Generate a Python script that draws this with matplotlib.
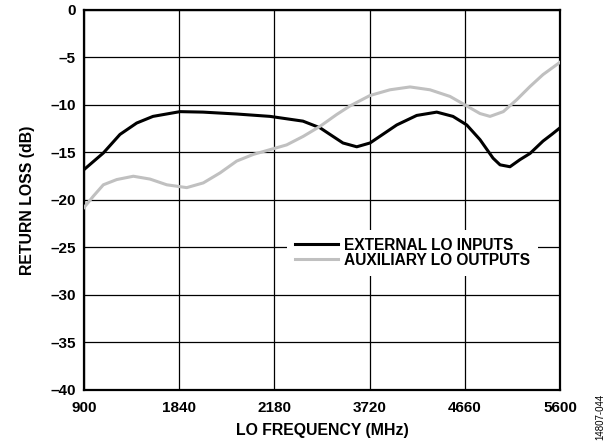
import numpy as np
import matplotlib.pyplot as plt

plt.rcParams['font.family'] = ['Liberation Sans', 'DejaVu Sans']
plt.rcParams['font.weight'] = 'bold'

# datos (MHz, dB)
freq_ext = [900, 1091, 1255, 1420, 1581, 1848, 2075, 2408, 2737, 3062, 3230,
            3329, 3457, 3593, 3724, 3988, 4185, 4383, 4543, 4679, 4810, 4939,
            5008, 5106, 5205, 5304, 5432, 5518, 5600]
rl_ext = [-16.8, -15.05, -13.1, -11.9, -11.2, -10.7, -10.75, -10.95, -11.2,
          -11.7, -12.4, -13.1, -14.0, -14.4, -14.0, -12.1, -11.1, -10.75,
          -11.2, -12.1, -13.65, -15.6, -16.3, -16.5, -15.75, -15.1, -13.8,
          -13.1, -12.4]

freq_aux = [900, 992, 1091, 1223, 1387, 1552, 1717, 1914, 2078, 2243, 2408,
            2572, 2737, 2901, 3065, 3230, 3395, 3526, 3724, 3921, 4119, 4316,
            4514, 4679, 4810, 4909, 5040, 5172, 5304, 5432, 5600]
rl_aux = [-20.8, -19.6, -18.4, -17.85, -17.5, -17.8, -18.4, -18.7, -18.2,
          -17.15, -15.9, -15.2, -14.7, -14.2, -13.3, -12.25, -11.0, -10.1,
          -9.0, -8.4, -8.1, -8.4, -9.1, -10.1, -10.9, -11.2, -10.7, -9.45,
          -8.05, -6.8, -5.5]

xticks = [900, 1840, 2780, 3720, 4660, 5600]
xtick_labels = ['900', '1840', '2180', '3720', '4660', '5600']
yticks = [0, -5, -10, -15, -20, -25, -30, -35, -40]

fig = plt.figure(figsize=(6.15, 4.46), dpi=100)
ax = fig.add_axes([0.1366, 0.1256, 0.774, 0.852])

ax.plot(freq_ext, rl_ext, color='black', linewidth=2.2, label='EXTERNAL LO INPUTS', zorder=3)
ax.plot(freq_aux, rl_aux, color='#c0c0c0', linewidth=2.2, label='AUXILIARY LO OUTPUTS', zorder=3)

ax.set_xlim(900, 5600)
ax.set_ylim(-40, 0)
ax.set_xticks(xticks)
ax.set_xticklabels(xtick_labels)
ax.set_yticks(yticks)
ax.set_yticklabels([str(v).replace('-', '\u2013') for v in yticks])
ax.tick_params(length=0, labelsize=11)
ax.tick_params(axis='x', pad=8)
ax.tick_params(axis='y', pad=6)
ax.grid(True, color='black', linewidth=0.9)
for s in ax.spines.values():
    s.set_linewidth(1.6)

ax.set_xlabel('LO FREQUENCY (MHz)', fontsize=11.4, fontweight='bold', labelpad=6)
ax.set_ylabel('RETURN LOSS (dB)', fontsize=11.4, fontweight='bold', labelpad=11)

leg = ax.legend(loc='upper left', bbox_to_anchor=(0.4265, 0.421), frameon=True,
                fancybox=False, edgecolor='none', framealpha=1, fontsize=11.2,
                handlelength=2.8, handletextpad=0.35, borderpad=0.5,
                labelspacing=0.0, borderaxespad=0)
leg.get_frame().set_linewidth(0)

fig.text(0.976, 0.013, '14807-044', rotation=90, fontsize=7, fontweight='normal',
         ha='center', va='bottom')

fig.savefig('out.png', dpi=100)
